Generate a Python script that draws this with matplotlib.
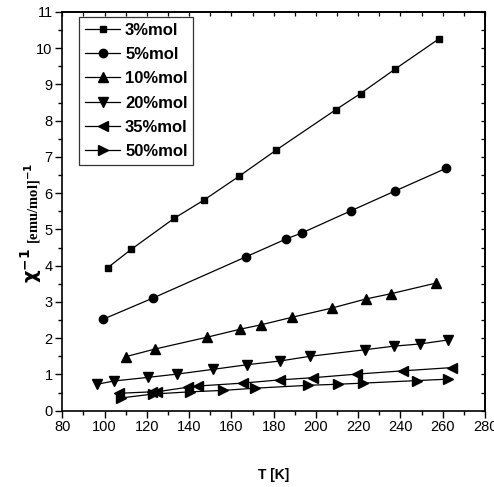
import matplotlib
matplotlib.use("Agg")
import matplotlib.pyplot as plt
from matplotlib.ticker import MultipleLocator

plt.rcParams['font.family'] = ['Liberation Sans', 'DejaVu Sans']

# Inverse susceptibility vs temperature for several concentrations
labels = ["3%mol", "5%mol", "10%mol", "20%mol", "35%mol", "50%mol"]
markers = ["s", "o", "^", "v", "<", ">"]
msizes = [5.0, 6.0, 7.0, 7.0, 7.0, 7.0]

T_3 = [101.6, 112.6, 133.0, 147.0, 163.7, 181.2, 209.3, 221.1, 237.6, 258.0]
chi_3 = [3.95, 4.45, 5.31, 5.81, 6.47, 7.19, 8.30, 8.75, 9.43, 10.25]

T_5 = [99.2, 123.0, 166.7, 186.0, 193.6, 216.4, 237.4, 261.7]
chi_5 = [2.52, 3.11, 4.24, 4.74, 4.91, 5.51, 6.06, 6.69]

T_10 = [110.0, 123.8, 148.7, 164.3, 174.1, 188.9, 207.5, 223.5, 235.7, 256.8]
chi_10 = [1.49, 1.70, 2.03, 2.25, 2.37, 2.58, 2.83, 3.08, 3.23, 3.52]

T_20 = [96.5, 104.6, 120.7, 134.4, 151.3, 167.6, 182.9, 197.1, 223.0, 236.8, 249.1, 262.4]
chi_20 = [0.73, 0.82, 0.92, 1.01, 1.14, 1.27, 1.37, 1.50, 1.68, 1.78, 1.84, 1.95]

T_35 = [106.9, 122.3, 124.6, 139.6, 144.0, 165.3, 182.9, 198.7, 219.6, 241.2, 264.6]
chi_35 = [0.48, 0.52, 0.52, 0.65, 0.68, 0.76, 0.85, 0.91, 1.01, 1.10, 1.19]

T_50 = [107.6, 123.0, 140.4, 156.1, 171.1, 196.3, 210.5, 222.2, 247.6, 262.5]
chi_50 = [0.35, 0.46, 0.52, 0.56, 0.62, 0.70, 0.73, 0.76, 0.83, 0.87]

series_T = [T_3, T_5, T_10, T_20, T_35, T_50]
series_chi = [chi_3, chi_5, chi_10, chi_20, chi_35, chi_50]

fig = plt.figure(figsize=(4.94, 4.87), dpi=100)
ax = fig.add_axes([0.1261, 0.1567, 0.8557, 0.8187])

for T, chi, lab, mk, ms in zip(series_T, series_chi, labels, markers, msizes):
    ax.plot(T, chi, color="black", lw=0.9, marker=mk, ms=ms,
            markerfacecolor="black", markeredgecolor="black", label=lab)

ax.set_xlim(80, 280)
ax.set_ylim(0, 11)
ax.xaxis.set_major_locator(MultipleLocator(20))
ax.xaxis.set_minor_locator(MultipleLocator(10))
ax.yaxis.set_major_locator(MultipleLocator(1))
ax.yaxis.set_minor_locator(MultipleLocator(0.5))
ax.tick_params(which="major", direction="out", length=5, width=1.0,
               labelsize=10.5, pad=2)
ax.tick_params(which="minor", direction="out", length=3, width=1.0)

for sp in ax.spines.values():
    sp.set_linewidth(1.2)

# inward ticks on the top and right frame edges
top = ax.secondary_xaxis("top")
top.xaxis.set_major_locator(MultipleLocator(10))
top.tick_params(direction="in", length=3, width=0.9, labeltop=False)
top.spines["top"].set_linewidth(1.2)
right = ax.secondary_yaxis("right")
right.yaxis.set_major_locator(MultipleLocator(0.5))
right.tick_params(direction="in", length=3, width=0.9, labelright=False)
right.spines["right"].set_linewidth(1.2)

ax.set_xlabel("T [K]", fontsize=10, fontweight="bold", labelpad=24)

# y label: chi^-1 in sans bold, unit in serif bold
fig.text(0.062, 0.455, r"$\mathbf{\chi}^{\mathbf{-1}}$", rotation=90,
         ha="center", va="center", fontsize=14, fontweight="bold")
fig.text(0.066, 0.583, r"[emu/mol]$^{\mathbf{-1}}$", rotation=90,
         ha="center", va="center", fontsize=10.5, fontweight="bold",
         family=["Liberation Serif", "DejaVu Serif"])

leg = ax.legend(loc="upper left", bbox_to_anchor=(0.04, 0.988),
                prop={"weight": "bold", "size": 12}, frameon=True,
                fancybox=False, edgecolor="black", handlelength=2.1,
                handletextpad=0.3, labelspacing=0.56, borderpad=0.35,
                borderaxespad=0.0)
leg.get_frame().set_linewidth(0.9)

fig.savefig("out.png", dpi=100)
